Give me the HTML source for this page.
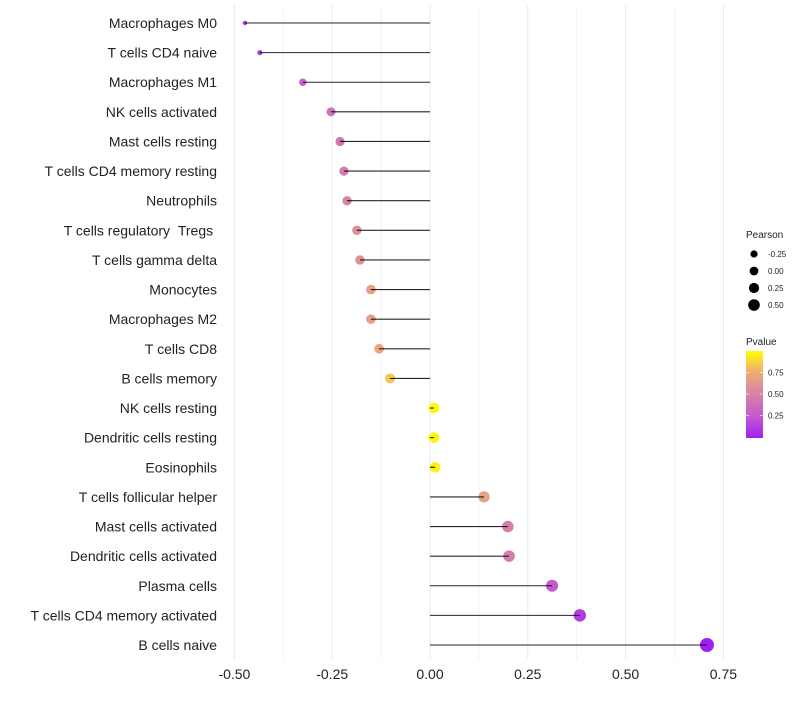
<!DOCTYPE html>
<html><head><meta charset="utf-8"><style>
body{margin:0;background:#fff;font-family:"Liberation Sans",sans-serif}
</style></head><body>
<svg id="chart" width="800" height="700" xmlns="http://www.w3.org/2000/svg"></svg>
<script>
const categories=["Macrophages M0","T cells CD4 naive","Macrophages M1","NK cells activated","Mast cells resting","T cells CD4 memory resting","Neutrophils","T cells regulatory \u00a0Tregs\u00a0","T cells gamma delta","Monocytes","Macrophages M2","T cells CD8","B cells memory","NK cells resting","Dendritic cells resting","Eosinophils","T cells follicular helper","Mast cells activated","Dendritic cells activated","Plasma cells","T cells CD4 memory activated","B cells naive"];
const pearson=[-0.473,-0.435,-0.325,-0.253,-0.23,-0.22,-0.212,-0.187,-0.179,-0.151,-0.151,-0.13,-0.102,0.01,0.01,0.013,0.138,0.199,0.202,0.312,0.383,0.708];
const pvalue=[0.06,0.12,0.3,0.4,0.44,0.46,0.5,0.57,0.6,0.68,0.68,0.73,0.83,0.98,0.98,0.96,0.7,0.48,0.48,0.25,0.12,0.001];
const xTicks=[-0.5,-0.25,0,0.25,0.5,0.75];
const xTickLabels=["-0.50","-0.25","0.00","0.25","0.50","0.75"];
const sizeLegend=[-0.25,0,0.25,0.5];
const sizeLegendLabels=["-0.25","0.00","0.25","0.50"];
const colorTicks=[0.25,0.5,0.75];

const NS="http://www.w3.org/2000/svg";
const svg=document.getElementById('chart');
function el(t,a,p){const e=document.createElementNS(NS,t);for(const k in a)e.setAttribute(k,a[k]);(p||svg).appendChild(e);return e;}
const x=v=>430+v*391.2;
const y=i=>23+i*(622/21);
const r=v=>v>=0?5.3+2.4*v:(v>-0.253?4.5+0.8*(v+0.253)/0.253:Math.max(2.1,4.5+(v+0.253)*10.5));
const stops=[[0,[160,32,240]],[0.25,[196,90,208]],[0.5,[214,130,165]],[0.75,[238,170,120]],[1,[255,255,0]]];
function col(p){for(let i=1;i<stops.length;i++){if(p<=stops[i][0]){const a=stops[i-1],b=stops[i],t=(p-a[0])/(b[0]-a[0]);return 'rgb('+a[1].map((c,k)=>Math.round(c+(b[1][k]-c)*t)).join(',')+')';}}return 'rgb(255,255,0)';}

for(let v=-0.5;v<=0.751;v+=0.125){
  const g=el('line',{x1:x(v),x2:x(v),y1:5,y2:660,stroke:Math.abs((v*4)%1)<1e-6?'#ebebeb':'#f4f4f4','stroke-width':1});
  
  
}
xTicks.forEach((v,i)=>{
  const t=el('text',{x:x(v),y:679,'text-anchor':'middle','font-size':14,fill:'#222'});
  t.textContent=xTickLabels[i];
  
  
});
categories.forEach((c,i)=>{
  const t=el('text',{x:217,y:y(i)+5,'text-anchor':'end','font-size':14,fill:'#222'});
  t.textContent=c;
  
  
  const d=el('circle',{cx:x(pearson[i]),cy:y(i),r:r(pearson[i]),fill:col(pvalue[i])});
  
  
  const l=el('line',{x1:x(0),x2:x(pearson[i]),y1:y(i),y2:y(i),stroke:'#000','stroke-width':1.1,'stroke-opacity':0.85});
  
  
});
const st=el('text',{x:746,y:238,'font-size':10,fill:'#222'});st.textContent='Pearson';


sizeLegend.forEach((v,i)=>{
  const cy=254+i*17;
  const c=el('circle',{cx:754,cy:cy,r:[3.6,4.4,5.1,5.8][i],fill:'#000'});
  
  
  const t=el('text',{x:768,y:cy+3,'font-size':8,fill:'#222'});t.textContent=sizeLegendLabels[i];
  
  
});
const ct=el('text',{x:746,y:345,'font-size':10,fill:'#222'});ct.textContent='Pvalue';


const defs=el('defs',{});
const lg=el('linearGradient',{id:'pg',x1:0,y1:1,x2:0,y2:0},defs);
stops.forEach(s=>el('stop',{offset:s[0],'stop-color':'rgb('+s[1].join(',')+')'},lg));
const cb=el('rect',{x:746,y:351,width:17,height:87,fill:'url(#pg)'});


const cy=v=>437-v*86;
colorTicks.forEach(v=>{
  el('line',{x1:746,x2:749,y1:cy(v),y2:cy(v),stroke:'#fff','stroke-width':0.6});
  el('line',{x1:760,x2:763,y1:cy(v),y2:cy(v),stroke:'#fff','stroke-width':0.6});
  const t=el('text',{x:768,y:cy(v)+3,'font-size':8,fill:'#222'});t.textContent=v.toFixed(2);
  
  
});
</script>
</body></html>
